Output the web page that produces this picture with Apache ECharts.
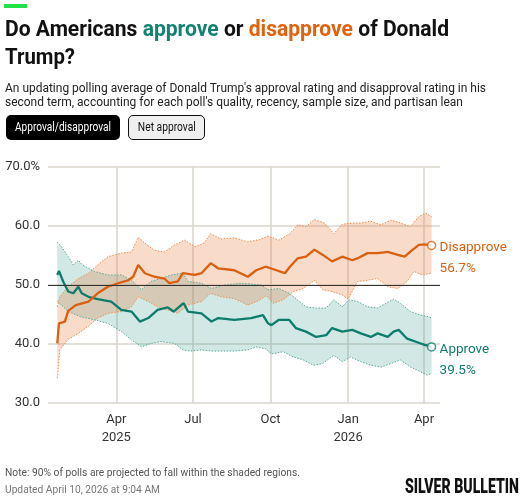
<!DOCTYPE html>
<html>
<head>
<meta charset="utf-8">
<script src="https://cdn.jsdelivr.net/npm/echarts@6/dist/echarts.min.js"></script>
<style>
html,body{margin:0;padding:0;background:#fff;width:531px;height:499px;overflow:hidden;font-family:Roboto,'Noto Sans',sans-serif;}
#chart{position:absolute;left:0;top:0;width:531px;height:499px;}
.abs{position:absolute;white-space:nowrap;}
.sc{display:inline-block;transform-origin:0 50%;white-space:nowrap;}
.title{left:5px;top:14px;font-size:22.5px;font-weight:700;line-height:28px;color:#111;}
.ap{color:#138272;}
.dis{color:#e0620e;}
.sub{left:5px;top:81px;font-size:12.5px;line-height:13.5px;color:#222;}
.btn{top:115px;height:25px;border-radius:5px;font-size:12px;text-align:center;box-sizing:border-box;}
.btn .sc{transform-origin:50% 50%;}
.b1{left:6px;width:114px;background:#000;color:#fff;line-height:25px;}
.b2{left:128px;width:77px;background:#efefef;color:#111;border:1px solid #111;line-height:23px;}
.note{left:5px;top:466px;font-size:11px;line-height:14px;color:#555;}
.upd{left:5px;top:483px;font-size:11px;line-height:14px;color:#777;}
.logo{left:405px;top:478px;font-size:15px;line-height:18px;font-weight:900;color:#111;letter-spacing:0px;}
</style>
</head>
<body>
<div id="chart"></div>
<div class="abs" style="left:4px;top:4px;width:23px;height:4px;background:#22e046;"></div>
<div class="abs title">
  <div><span class="sc" data-w="444">Do Americans <span class="ap">approve</span> or <span class="dis">disapprove</span> of Donald</span></div>
  <div><span class="sc" data-w="70">Trump?</span></div>
</div>
<div class="abs sub">
  <div><span class="sc" data-w="481">An updating polling average of Donald Trump's approval rating and disapproval rating in his</span></div>
  <div><span class="sc" data-w="458">second term, accounting for each poll's quality, recency, sample size, and partisan lean</span></div>
</div>
<div class="abs btn b1"><span class="sc" data-w="96">Approval/disapproval</span></div>
<div class="abs btn b2"><span class="sc" data-w="58">Net approval</span></div>
<div class="abs note"><span class="sc" data-w="295">Note: 90% of polls are projected to fall within the shaded regions.</span></div>
<div class="abs upd"><span class="sc" data-w="155">Updated April 10, 2026 at 9:04 AM</span></div>
<div class="abs logo"><span class="sc" id="logo" data-w="114" data-sy="1.3">SILVER BULLETIN</span></div>
<script>
// ---- data ----
const approve = [['2025-01-21',51.7],['2025-01-23',52.4],['2025-01-28',50.6],['2025-02-03',48.9],['2025-02-09',48.6],['2025-02-15',49.7],['2025-02-19',48.6],['2025-02-27',48.0],['2025-03-10',47.6],['2025-03-26',47.2],['2025-04-07',45.8],['2025-04-19',45.5],['2025-04-29',43.8],['2025-05-09',44.4],['2025-05-20',45.8],['2025-06-01',46.2],['2025-06-08',45.5],['2025-06-17',46.6],['2025-06-20',46.9],['2025-06-25',45.5],['2025-07-11',45.2],['2025-07-23',43.8],['2025-07-31',44.4],['2025-08-19',44.1],['2025-09-08',44.4],['2025-09-22',44.9],['2025-09-28',43.5],['2025-10-02',43.2],['2025-10-11',44.1],['2025-10-23',44.1],['2025-10-31',42.7],['2025-11-12',42.1],['2025-11-24',41.2],['2025-12-06',41.5],['2025-12-13',42.7],['2025-12-25',42.1],['2026-01-06',42.4],['2026-01-16',41.8],['2026-01-28',41.2],['2026-02-05',41.8],['2026-02-17',41.2],['2026-02-24',42.1],['2026-03-02',42.4],['2026-03-12',40.9],['2026-03-24',40.3],['2026-04-01',39.9],['2026-04-10',39.5]];
const disapprove = [['2025-01-21',40.1],['2025-01-23',43.5],['2025-01-30',43.8],['2025-02-03',45.6],['2025-02-12',46.6],['2025-02-27',47.2],['2025-03-10',48.6],['2025-03-22',49.7],['2025-04-03',50.3],['2025-04-15',50.8],['2025-04-21',51.4],['2025-04-27',53.4],['2025-05-05',52.0],['2025-05-16',51.4],['2025-05-28',51.1],['2025-06-03',50.3],['2025-06-13',50.6],['2025-06-19',52.0],['2025-07-03',51.7],['2025-07-11',52.0],['2025-07-22',53.7],['2025-07-31',52.8],['2025-08-19',52.5],['2025-09-04',51.4],['2025-09-14',52.5],['2025-09-25',53.1],['2025-10-08',52.5],['2025-10-18',52.0],['2025-10-24',53.1],['2025-11-02',54.5],['2025-11-12',54.8],['2025-11-22',56.0],['2025-12-02',55.1],['2025-12-13',54.0],['2025-12-25',54.8],['2026-01-06',54.2],['2026-01-12',54.5],['2026-01-24',55.4],['2026-02-05',55.4],['2026-02-17',55.6],['2026-03-01',55.1],['2026-03-09',54.8],['2026-03-18',55.9],['2026-03-26',56.8],['2026-04-01',56.9],['2026-04-10',56.7]];
const approveUpper = [['2025-01-21',57.3],['2025-01-26',56.5],['2025-02-03',54.8],['2025-02-09',53.4],['2025-02-15',54.2],['2025-02-20',53.4],['2025-03-06',52.3],['2025-03-22',51.7],['2025-04-07',51.7],['2025-04-19',50.8],['2025-05-01',49.2],['2025-05-12',50.6],['2025-05-24',51.1],['2025-06-05',51.7],['2025-06-19',52.0],['2025-06-25',50.6],['2025-07-11',50.3],['2025-07-23',49.4],['2025-08-07',50.0],['2025-08-27',50.3],['2025-09-20',50.0],['2025-09-28',49.2],['2025-10-11',49.4],['2025-10-23',48.6],['2025-10-31',47.7],['2025-11-12',46.3],['2025-11-24',46.1],['2025-12-06',46.1],['2025-12-15',47.5],['2025-12-25',46.3],['2026-01-02',47.5],['2026-01-12',47.2],['2026-01-24',46.3],['2026-02-05',46.1],['2026-02-15',46.9],['2026-02-24',47.6],['2026-03-04',46.9],['2026-03-16',45.5],['2026-03-28',44.9],['2026-04-07',44.6],['2026-04-10',44.4]];
const approveLower = [['2025-01-21',47.2],['2025-01-26',46.6],['2025-02-03',45.5],['2025-02-18',44.6],['2025-03-06',44.1],['2025-03-22',43.5],['2025-04-07',42.1],['2025-04-19',40.7],['2025-05-01',39.5],['2025-05-12',40.1],['2025-05-24',40.4],['2025-06-09',40.1],['2025-06-19',39.0],['2025-06-28',38.8],['2025-07-11',39.0],['2025-07-23',38.8],['2025-08-19',38.8],['2025-09-04',39.0],['2025-09-14',39.5],['2025-09-25',39.2],['2025-10-02',38.3],['2025-10-16',38.7],['2025-10-28',37.8],['2025-11-09',37.3],['2025-11-21',36.4],['2025-12-02',36.7],['2025-12-15',38.1],['2025-12-25',37.0],['2026-01-04',37.8],['2026-01-16',37.0],['2026-01-28',36.4],['2026-02-09',36.1],['2026-02-21',36.7],['2026-03-04',37.3],['2026-03-16',36.1],['2026-03-28',35.3],['2026-04-05',34.7],['2026-04-10',35.0]];
const disapproveUpper = [['2025-01-21',46.3],['2025-01-24',48.0],['2025-02-03',49.7],['2025-02-15',51.1],['2025-02-27',52.0],['2025-03-10',53.4],['2025-03-22',54.8],['2025-04-07',55.4],['2025-04-19',55.6],['2025-04-27',58.1],['2025-05-05',57.1],['2025-05-16',55.9],['2025-05-28',55.6],['2025-06-09',56.8],['2025-06-21',57.6],['2025-07-03',56.5],['2025-07-14',57.1],['2025-07-22',58.7],['2025-08-03',57.8],['2025-08-19',58.0],['2025-09-04',57.3],['2025-09-18',57.7],['2025-09-28',58.3],['2025-10-11',57.6],['2025-10-24',58.7],['2025-11-02',60.2],['2025-11-12',59.9],['2025-11-22',61.1],['2025-12-04',60.5],['2025-12-15',58.7],['2025-12-25',60.3],['2026-01-06',60.5],['2026-01-16',60.5],['2026-01-28',60.8],['2026-02-09',60.2],['2026-02-21',61.0],['2026-03-04',60.5],['2026-03-16',59.9],['2026-03-26',61.6],['2026-04-03',62.2],['2026-04-10',61.6]];
const disapproveLower = [['2025-01-21',34.2],['2025-01-24',39.0],['2025-02-03',40.8],['2025-02-15',41.8],['2025-02-27',43.0],['2025-03-10',44.4],['2025-03-22',45.2],['2025-04-07',45.5],['2025-04-19',46.3],['2025-04-27',48.0],['2025-05-09',47.2],['2025-05-20',46.3],['2025-06-01',45.8],['2025-06-13',45.2],['2025-06-25',46.6],['2025-07-11',47.2],['2025-07-22',48.6],['2025-08-03',48.0],['2025-08-19',47.7],['2025-09-04',46.6],['2025-09-16',47.3],['2025-09-26',48.2],['2025-10-04',46.9],['2025-10-16',47.5],['2025-10-28',48.9],['2025-11-09',49.4],['2025-11-22',50.8],['2025-12-02',49.2],['2025-12-13',48.9],['2025-12-25',48.3],['2026-01-01',47.6],['2026-01-12',50.6],['2026-01-24',50.8],['2026-02-05',51.1],['2026-02-17',49.7],['2026-03-01',49.4],['2026-03-12',50.6],['2026-03-20',52.3],['2026-03-30',51.7],['2026-04-10',52.0]];
const xTickDates = ['2025-04-01','2025-07-01','2025-10-01','2026-01-01','2026-04-01'];
const xTickLabels = ['Apr\n2025','Jul','Oct','Jan\n2026','Apr'];
const yTickValues = [30,40,50,60,70];
const yTickLabels = ['30.0','40.0','50.0','60.0','70.0%'];
const axisStart = '2025-01-10';
const axisEnd = '2026-04-20';

// ---- text fitting ----
document.querySelectorAll('.sc').forEach(el => {
  const w = el.getBoundingClientRect().width;
  const t = +el.dataset.w;
  const sy = el.dataset.sy ? +el.dataset.sy : 1;
  el.style.transform = 'scale(' + (t / w) + ',' + sy + ')';
});

// ---- chart ----
function ts(s) { const p = s.split('-').map(Number); return Date.UTC(p[0], p[1] - 1, p[2]); }
function conv(arr) { return arr.map(d => [ts(d[0]), d[1]]); }

const TEAL = '#0c7d6b', ORANGE = '#d9600f';
const TEAL_EDGE = '#58a999', ORANGE_EDGE = '#ee8c48';
const TEAL_FILL = 'rgba(26,138,120,0.2)', ORANGE_FILL = 'rgba(232,112,42,0.25)';
const tickTs = xTickDates.map(ts);

function band(name, upper, lower, fill) {
  const up = conv(upper), lo = conv(lower);
  return {
    name: name, type: 'custom', silent: true, z: 1,
    data: [up[0]],
    renderItem: function (params, api) {
      const pts = up.map(p => api.coord(p)).concat(lo.slice().reverse().map(p => api.coord(p)));
      return { type: 'polygon', shape: { points: pts }, style: { fill: fill } };
    }
  };
}
function edge(arr, color, extra) {
  return Object.assign({
    type: 'line', data: conv(arr), showSymbol: false, silent: true, z: 2,
    lineStyle: { color: color, width: 1, type: [1.5, 1.5] }
  }, extra || {});
}
function main(name, arr, color) {
  return {
    name: name, type: 'line', data: conv(arr), showSymbol: false, z: 4,
    lineStyle: { color: color, width: 2.3 },
    endLabel: {
      show: true, color: color, fontSize: 13.5, lineHeight: 21, fontFamily: 'Roboto',
      distance: 8, offset: [0, 13],
      formatter: p => p.seriesName + '\n' + p.value[1].toFixed(1) + '%'
    }
  };
}

const chart = echarts.init(document.getElementById('chart'));
chart.setOption({
  animation: false,
  grid: { left: 48, right: 91, top: 167, bottom: 96, containLabel: false, outerBoundsMode: 'none' },
  xAxis: {
    type: 'value', min: ts(axisStart), max: ts(axisEnd),
    axisLine: { show: false },
    axisTick: { show: false, customValues: tickTs },
    axisLabel: {
      customValues: tickTs, color: '#333', fontSize: 13, lineHeight: 18, margin: 8, fontFamily: 'Roboto',
      formatter: v => { let i = 0, best = Infinity; tickTs.forEach((t, k) => { const d = Math.abs(t - v); if (d < best) { best = d; i = k; } }); return xTickLabels[i]; }
    },
    splitLine: { show: true, lineStyle: { color: '#d9d5cd', width: 1.5 } }
  },
  yAxis: {
    type: 'value', min: 30, max: 70, interval: 10,
    axisLine: { show: false }, axisTick: { show: false },
    axisLabel: { color: '#333', fontSize: 13, margin: 8, fontFamily: 'Roboto',
      formatter: v => yTickLabels[yTickValues.indexOf(v)] },
    splitLine: { lineStyle: { color: '#e3e0da', width: 2 } }
  },
  series: [
    band('approveBand', approveUpper, approveLower, TEAL_FILL),
    band('disapproveBand', disapproveUpper, disapproveLower, ORANGE_FILL),
    edge(approveUpper, TEAL_EDGE),
    edge(approveLower, TEAL_EDGE),
    edge(disapproveUpper, ORANGE_EDGE),
    edge(disapproveLower, ORANGE_EDGE, {
      markLine: { silent: true, symbol: 'none', label: { show: false },
        lineStyle: { color: '#333', width: 1.2, type: 'solid' }, data: [{ yAxis: 50 }] }
    }),
    main('Approve', approve, TEAL),
    main('Disapprove', disapprove, ORANGE),
    {
      type: 'scatter', z: 5, symbol: 'circle', symbolSize: 8, silent: true,
      data: [
        { value: conv(approve)[approve.length - 1], itemStyle: { color: '#fff', borderColor: TEAL, borderWidth: 1.5 } },
        { value: conv(disapprove)[disapprove.length - 1], itemStyle: { color: '#fff', borderColor: ORANGE, borderWidth: 1.5 } }
      ]
    }
  ]
});
</script>
</body>
</html>
